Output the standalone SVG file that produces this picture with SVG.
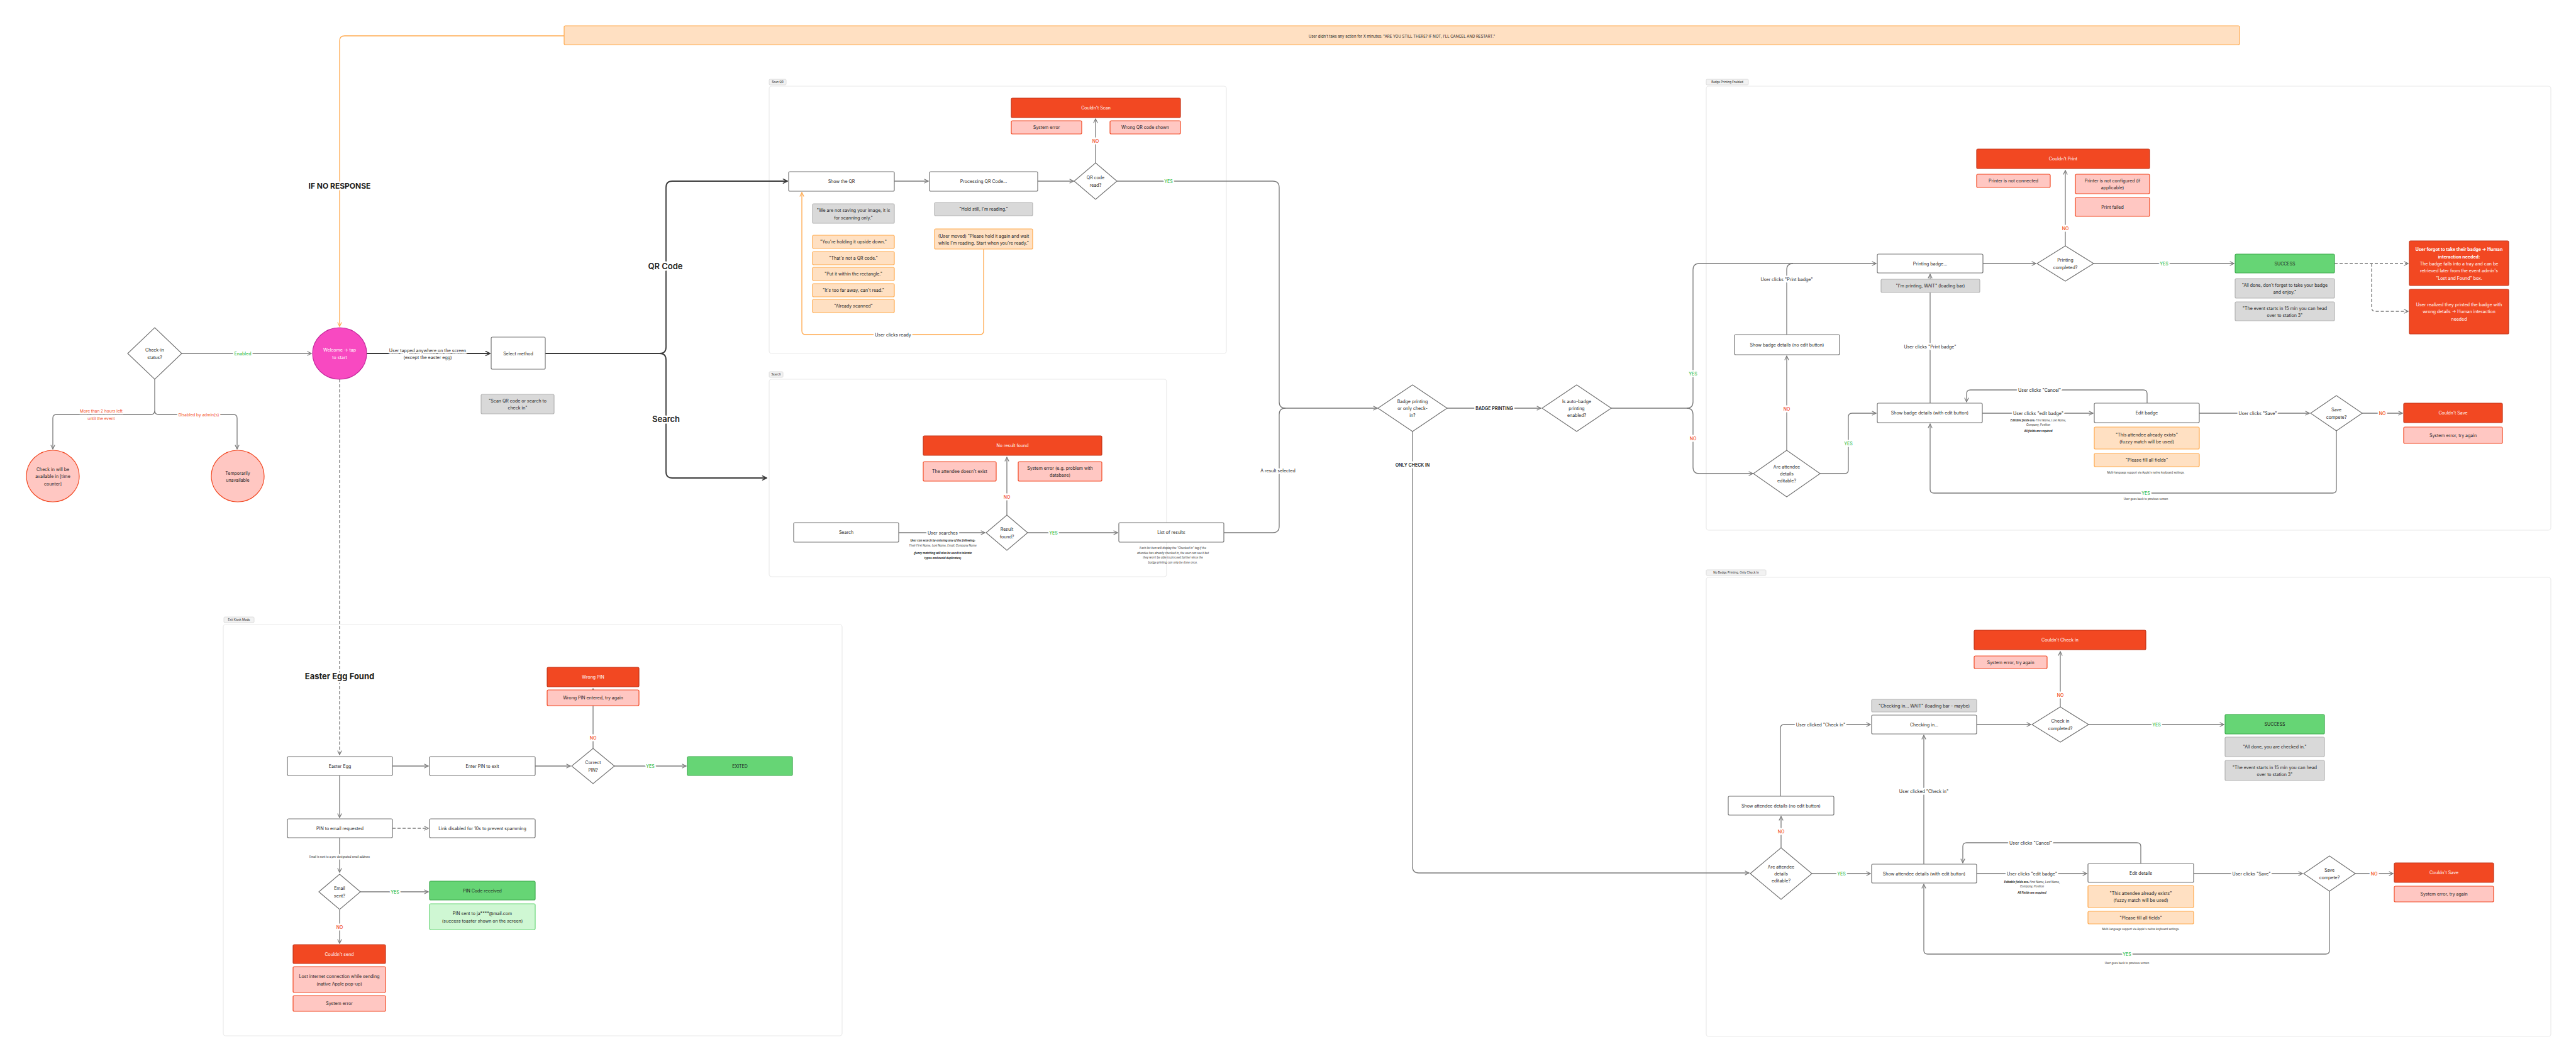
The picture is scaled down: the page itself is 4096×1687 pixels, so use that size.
<svg xmlns="http://www.w3.org/2000/svg" width="4096" height="1687" viewBox="0 0 4096 1687">
<style>
text{font-family:Inter,"Noto Sans","Liberation Sans",sans-serif;text-anchor:middle;dominant-baseline:central;font-size:7px;fill:#1E1E1E}
.box{fill:#fff;stroke:#757575;stroke-width:1.2}
.red{fill:#F24822;stroke:#C4361A;stroke-width:1.2}
.pink{fill:#FFC7C2;stroke:#F24822;stroke-width:1.2}
.org{fill:#FFE0C2;stroke:#FFA94D;stroke-width:1.2}
.gray{fill:#D9D9D9;stroke:#B3B3B3;stroke-width:1.2}
.grn{fill:#66D575;stroke:#3DAA4D;stroke-width:1.2}
.lgrn{fill:#CFF7D3;stroke:#66D575;stroke-width:1.2}
.dia{fill:#fff;stroke:#757575;stroke-width:1.2}
.sec{fill:#fff;stroke:#EAEAEA;stroke-width:1.2}
.tag{fill:#F2F2F2;stroke:#D6D6D6;stroke-width:0.8}
.tg{font-size:4.6px}
.w{fill:#fff}
.c{fill:none;stroke:#7A7A7A;stroke-width:1.3}
.ck{fill:none;stroke:#3A3A3A;stroke-width:1.8}
.cd{fill:none;stroke:#7A7A7A;stroke-width:1.3;stroke-dasharray:5 3}
.co{fill:none;stroke:#FFA94D;stroke-width:1.3}
.lbl{paint-order:stroke;stroke:#fff;stroke-width:5px;stroke-linejoin:round}
.yes{fill:#3CC156;font-weight:500}
.no{fill:#F24822;font-weight:500}
.big{font-size:13px;font-weight:600}
.sm{font-size:4.3px;font-style:italic}
.smb{font-size:4.3px;font-style:italic;font-weight:700}
.rl{fill:#F24822;font-size:6.5px}
</style>
<defs>
<marker id="a" viewBox="0 0 10 10" refX="9" refY="5" markerWidth="8" markerHeight="8" markerUnits="userSpaceOnUse" orient="auto"><path d="M1,1 L9,5 L1,9" fill="none" stroke="#7A7A7A" stroke-width="1.5"/></marker>
<marker id="ak" viewBox="0 0 10 10" refX="9" refY="5" markerWidth="9" markerHeight="9" markerUnits="userSpaceOnUse" orient="auto"><path d="M1,1 L9,5 L1,9" fill="none" stroke="#3A3A3A" stroke-width="1.8"/></marker>
<marker id="ao" viewBox="0 0 10 10" refX="9" refY="5" markerWidth="8" markerHeight="8" markerUnits="userSpaceOnUse" orient="auto"><path d="M1,1 L9,5 L1,9" fill="none" stroke="#FFA94D" stroke-width="1.5"/></marker>
</defs>
<rect width="4096" height="1687" fill="#fff"/>

<!-- section frames -->
<g id="sections">
<rect class="sec" x="1223" y="137" width="727" height="425" rx="4"/>
<rect class="tag" x="1223" y="126" width="27" height="9" rx="1.5"/><text class="tg" x="1236.5" y="130.5">Scan QR</text>
<rect class="sec" x="1223" y="603" width="632" height="314" rx="4"/>
<rect class="tag" x="1223" y="591" width="22" height="9" rx="1.5"/><text class="tg" x="1234" y="595.5">Search</text>
<rect class="sec" x="2713" y="137" width="1343" height="706" rx="4"/>
<rect class="tag" x="2713" y="126" width="67" height="9" rx="1.5"/><text class="tg" x="2746.5" y="130.5">Badge Printing Enabled</text>
<rect class="sec" x="2713" y="918" width="1343" height="730" rx="4"/>
<rect class="tag" x="2713" y="906" width="95" height="9" rx="1.5"/><text class="tg" x="2760.5" y="910.5">No Badge Printing, Only Check In</text>
<rect class="sec" x="355" y="993" width="984" height="654" rx="4"/>
<rect class="tag" x="356" y="981" width="48" height="9" rx="1.5"/><text class="tg" x="380" y="985.5">Exit Kiosk Mode</text>
</g>

<!-- connectors -->
<g id="connectors">
<path class="c" d="M289,562 H495" marker-end="url(#a)"/>
<path class="c" d="M246,603 V653 Q246,659 240,659 H90 Q84,659 84,665 V714" marker-end="url(#a)"/>
<path class="c" d="M246,653 Q246,659 252,659 H371 Q377,659 377,665 V714" marker-end="url(#a)"/>
<path class="ck" d="M583,562 H779" marker-end="url(#ak)"/>
<path class="cd" d="M540,603 V1200" marker-end="url(#a)"/>
<path class="co" d="M897,57 H548 Q540,57 540,65 V519" marker-end="url(#ao)"/>
<path class="ck" d="M867,562 H1049 Q1059,562 1059,552 V298 Q1059,288 1069,288 H1252" marker-end="url(#ak)"/>
<path class="ck" d="M1049,562 Q1059,562 1059,572 V750 Q1059,760 1069,760 H1219" marker-end="url(#ak)"/>
<path class="c" d="M1422,288 H1476" marker-end="url(#a)"/>
<path class="c" d="M1650,288 H1707" marker-end="url(#a)"/>
<path class="c" d="M1742,259 V189" marker-end="url(#a)"/>
<path class="c" d="M1776,288 H2024 Q2034,288 2034,298 V639 Q2034,649 2044,649 H2190" marker-end="url(#a)"/>
<path class="co" d="M1564,396 V526 Q1564,532 1558,532 H1281 Q1275,532 1275,526 V306" marker-end="url(#ao)"/>
<path class="c" d="M1429,847 H1566" marker-end="url(#a)"/>
<path class="c" d="M1601,819 V727" marker-end="url(#a)"/>
<path class="c" d="M1634,847 H1777" marker-end="url(#a)"/>
<path class="c" d="M1946,847 H2024 Q2034,847 2034,837 V659 Q2034,649 2044,649"/>
<path class="c" d="M2301,649 H2450" marker-end="url(#a)"/>
<path class="c" d="M2561,649 H2682 Q2692,649 2692,639 V429 Q2692,419 2702,419 H2983" marker-end="url(#a)"/>
<path class="c" d="M2682,649 Q2692,649 2692,659 V743 Q2692,753 2702,753 H2787" marker-end="url(#a)"/>
<path class="c" d="M2246,686 V1378 Q2246,1388 2256,1388 H2781" marker-end="url(#a)"/>
<path class="c" d="M3153,419 H3237" marker-end="url(#a)"/>
<path class="c" d="M3284,391 V271" marker-end="url(#a)"/>
<path class="c" d="M3329,419 H3552" marker-end="url(#a)"/>
<path class="cd" d="M3712,419 H3829" marker-end="url(#a)"/>
<path class="cd" d="M3771,419 V489 Q3771,495 3777,495 H3829" marker-end="url(#a)"/>
<path class="c" d="M2841,532 V429 Q2841,419 2851,419"/>
<path class="c" d="M3069,641 V436" marker-end="url(#a)"/>
<path class="c" d="M2841,716 V566" marker-end="url(#a)"/>
<path class="c" d="M2894,753 H2933 Q2939,753 2939,747 V663 Q2939,657 2945,657 H2983" marker-end="url(#a)"/>
<path class="c" d="M3152,657 H3328" marker-end="url(#a)"/>
<path class="c" d="M3414,641 V626 Q3414,620 3408,620 H3133 Q3127,620 3127,626 V639" marker-end="url(#a)"/>
<path class="c" d="M3497,657 H3672" marker-end="url(#a)"/>
<path class="c" d="M3756,657 H3820" marker-end="url(#a)"/>
<path class="c" d="M3715,685 V778 Q3715,784 3709,784 H3075 Q3069,784 3069,778 V674" marker-end="url(#a)"/>
<path class="c" d="M3143,1152 H3229" marker-end="url(#a)"/>
<path class="c" d="M3276,1124 V1036" marker-end="url(#a)"/>
<path class="c" d="M3321,1152 H3536" marker-end="url(#a)"/>
<path class="c" d="M2832,1348 V1298" marker-end="url(#a)"/>
<path class="c" d="M2831,1266 V1158 Q2831,1152 2837,1152 H2974" marker-end="url(#a)"/>
<path class="c" d="M2881,1389 H2974" marker-end="url(#a)"/>
<path class="c" d="M3059,1374 V1169" marker-end="url(#a)"/>
<path class="c" d="M3143,1389 H3318" marker-end="url(#a)"/>
<path class="c" d="M3404,1373 V1346 Q3404,1340 3398,1340 H3127 Q3121,1340 3121,1346 V1372" marker-end="url(#a)"/>
<path class="c" d="M3488,1389 H3661" marker-end="url(#a)"/>
<path class="c" d="M3745,1389 H3805" marker-end="url(#a)"/>
<path class="c" d="M3704,1416 V1511 Q3704,1517 3698,1517 H3065 Q3059,1517 3059,1511 V1406" marker-end="url(#a)"/>
<path class="c" d="M624,1218 H681" marker-end="url(#a)"/>
<path class="c" d="M851,1218 H907" marker-end="url(#a)"/>
<path class="c" d="M977,1218 H1091" marker-end="url(#a)"/>
<path class="c" d="M943,1190 V1095" marker-end="url(#a)"/>
<path class="c" d="M540,1233 V1300" marker-end="url(#a)"/>
<path class="cd" d="M624,1317 H681" marker-end="url(#a)"/>
<path class="c" d="M540,1332 V1387" marker-end="url(#a)"/>
<path class="c" d="M573,1418 H681" marker-end="url(#a)"/>
<path class="c" d="M540,1447 V1500" marker-end="url(#a)"/>

<text class="lbl yes" x="386" y="562">Enabled</text>
<text class="lbl rl" x="161"><tspan x="161" y="654">More than 2 hours left</tspan><tspan x="161" y="666">until the event</tspan></text>
<text class="lbl rl" x="316" y="660">Disabled by admin(s)</text>
<text class="lbl" x="680"><tspan x="680" y="557">User tapped anywhere on the screen</tspan><tspan x="680" y="568">(except the easter egg)</tspan></text>
<text class="lbl big" x="540" y="295" style="font-size:12px;font-weight:700">IF NO RESPONSE</text>
<text class="lbl big" x="540" y="1075" style="font-weight:700">Easter Egg Found</text>
<text class="lbl big" x="1058" y="423">QR Code</text>
<text class="lbl big" x="1059" y="666">Search</text>
<text class="lbl no" x="1742" y="224">NO</text>
<text class="lbl yes" x="1858" y="288">YES</text>
<text class="lbl" x="1420" y="532">User clicks ready</text>
<text class="lbl" x="1499" y="847">User searches</text>
<text class="smb" x="1499" y="859">User can search by entering any of the following:</text>
<text class="sm" x="1499" y="867">Their First Name, Last Name, Email, Company Name</text>
<text class="smb" x="1499" y="879">(fuzzy matching will also be used to tolerate</text>
<text class="smb" x="1499" y="887">typos and avoid duplicates)</text>
<text class="lbl no" x="1601" y="790">NO</text>
<text class="lbl yes" x="1675" y="847">YES</text>
<text class="sm" x="1865" y="871">Each list item will display the "Checked In" tag if the</text>
<text class="sm" x="1865" y="879">attendee has already checked in, the user can see it but</text>
<text class="sm" x="1865" y="886">they won't be able to proceed further since the</text>
<text class="sm" x="1865" y="894">badge printing can only be done once.</text>
<text class="lbl" x="2032" y="748">A result selected</text>
<text class="lbl" x="2376" y="649" style="font-weight:600">BADGE PRINTING</text>
<text class="lbl" x="2246" y="739" style="font-weight:600">ONLY CHECK IN</text>
<text class="lbl yes" x="2692" y="594">YES</text>
<text class="lbl no" x="2692" y="697">NO</text>
<text class="lbl no" x="3284" y="363">NO</text>
<text class="lbl yes" x="3441" y="419">YES</text>
<text class="lbl" x="2841" y="444">User clicks "Print badge"</text>
<text class="lbl" x="3069" y="551">User clicks "Print badge"</text>
<text class="lbl no" x="2841" y="650">NO</text>
<text class="lbl yes" x="2939" y="705">YES</text>
<text class="lbl" x="3241" y="657">User clicks "edit badge"</text>
<text class="smb" x="3241" y="668">Editable fields are: <tspan style="font-weight:400">First Name, Last Name,</tspan></text>
<text class="sm" x="3241" y="675">Company, Position</text>
<text class="smb" x="3241" y="685">All fields are required</text>
<text class="lbl" x="3243" y="620">User clicks "Cancel"</text>
<text class="lbl" x="3590" y="657">User clicks "Save"</text>
<text class="lbl no" x="3788" y="657">NO</text>
<text class="lbl yes" x="3412" y="784">YES</text>
<text class="sm" x="3412" y="793" style="font-style:normal">User goes back to previous screen</text>
<text class="sm" x="3412" y="751" style="font-style:normal">Multi-language support via Apple's native keyboard settings.</text>
<text class="lbl no" x="3276" y="1105">NO</text>
<text class="lbl yes" x="3429" y="1152">YES</text>
<text class="lbl no" x="2832" y="1322">NO</text>
<text class="lbl" x="2895" y="1152">User clicked "Check in"</text>
<text class="lbl yes" x="2928" y="1389">YES</text>
<text class="lbl" x="3059" y="1258">User clicked "Check in"</text>
<text class="lbl" x="3231" y="1389">User clicks "edit badge"</text>
<text class="smb" x="3231" y="1402">Editable fields are: <tspan style="font-weight:400">First Name, Last Name,</tspan></text>
<text class="sm" x="3231" y="1409">Company, Position</text>
<text class="smb" x="3231" y="1419">All Fields are required</text>
<text class="lbl" x="3229" y="1340">User clicks "Cancel"</text>
<text class="lbl" x="3580" y="1389">User clicks "Save"</text>
<text class="lbl no" x="3775" y="1389">NO</text>
<text class="lbl yes" x="3382" y="1517">YES</text>
<text class="sm" x="3382" y="1531" style="font-style:normal">User goes back to previous screen</text>
<text class="sm" x="3404" y="1477" style="font-style:normal">Multi-language support via Apple's native keyboard settings.</text>
<text class="lbl yes" x="1034" y="1218">YES</text>
<text class="lbl no" x="943" y="1173">NO</text>
<text class="lbl sm" x="540" y="1362" style="font-style:normal">Email is sent to a pre-designated email address</text>
<text class="lbl yes" x="628" y="1418">YES</text>
<text class="lbl no" x="540" y="1474">NO</text>
</g>

<!-- banner -->
<g id="n_banner"><rect class="org" x="897" y="41" width="2664" height="30" rx="2"/><text x="2229" y="57" style="font-size:6px">User didn't take any action for X minutes: "ARE YOU STILL THERE? IF NOT, I'LL CANCEL AND RESTART."</text></g>

<!-- left -->
<g id="d_status"><polygon class="dia" points="246,521 289,562 246,603 203,562"/><text><tspan x="246" y="556">Check-in</tspan><tspan x="246" y="568">status?</tspan></text></g>
<g id="c_welcome"><ellipse cx="540" cy="562" rx="43" ry="41" fill="#F849C1" stroke="#C4259B" stroke-width="1.2"/><text class="w"><tspan x="540" y="556">Welcome → tap</tspan><tspan x="540" y="568">to start</tspan></text></g>
<g id="n_select"><rect class="box" x="781" y="536" width="86" height="51" rx="2"/><text x="824" y="562">Select method</text></g>
<g id="n_scanmsg"><rect class="gray" x="765" y="627" width="116" height="31" rx="2"/><text><tspan x="823" y="637">"Scan QR code or search to</tspan><tspan x="823" y="648">check in"</tspan></text></g>
<g id="c_timer"><ellipse cx="84" cy="757" rx="42" ry="41" fill="#FFC7C2" stroke="#F24822" stroke-width="1.2"/><text><tspan x="84" y="746">Check in will be</tspan><tspan x="84" y="757">available in [time</tspan><tspan x="84" y="769">counter]</tspan></text></g>
<g id="c_unavail"><ellipse cx="378" cy="757" rx="42" ry="41" fill="#FFC7C2" stroke="#F24822" stroke-width="1.2"/><text><tspan x="378" y="752">Temporarily</tspan><tspan x="378" y="763">unavailable</tspan></text></g>

<!-- QR -->
<g id="n_showqr"><rect class="box" x="1254" y="273" width="168" height="31" rx="2"/><text x="1338" y="288.5">Show the QR</text></g>
<g id="n_proc"><rect class="box" x="1478" y="273" width="172" height="31" rx="2"/><text x="1564" y="288.5">Processing QR Code...</text></g>
<g id="d_qr"><polygon class="dia" points="1742,259 1776,288 1742,317 1708,288"/><text><tspan x="1742" y="282">QR code</tspan><tspan x="1742" y="294">read?</tspan></text></g>
<g id="n_noscan"><rect class="red" x="1608" y="156" width="269" height="31" rx="2"/><text class="w" x="1742.5" y="171.5">Couldn't Scan</text></g>
<g id="n_qrsyserr"><rect class="pink" x="1608" y="192" width="112" height="21" rx="2"/><text x="1664" y="202.5">System error</text></g>
<g id="n_wrongqr"><rect class="pink" x="1765" y="192" width="112" height="21" rx="2"/><text x="1821" y="202.5">Wrong QR code shown</text></g>
<g id="n_notsaving"><rect class="gray" x="1292" y="324" width="130" height="31" rx="2"/><text><tspan x="1357" y="334">"We are not saving your image, it is</tspan><tspan x="1357" y="346">for scanning only."</tspan></text></g>
<g id="n_upside"><rect class="org" x="1292" y="374" width="130" height="21" rx="2"/><text x="1357" y="384.5">"You're holding it upside down."</text></g>
<g id="n_notqr"><rect class="org" x="1292" y="400" width="130" height="21" rx="2"/><text x="1357" y="410.5">"That's not a QR code."</text></g>
<g id="n_rect"><rect class="org" x="1292" y="425" width="130" height="21" rx="2"/><text x="1357" y="435.5">"Put it within the rectangle."</text></g>
<g id="n_far"><rect class="org" x="1292" y="451" width="130" height="21" rx="2"/><text x="1357" y="461.5">"It's too far away, can't read."</text></g>
<g id="n_already"><rect class="org" x="1292" y="476" width="130" height="21" rx="2"/><text x="1357" y="486.5">"Already scanned"</text></g>
<g id="n_holdstill"><rect class="gray" x="1486" y="322" width="156" height="21" rx="2"/><text x="1564" y="332.5">"Hold still, I'm reading."</text></g>
<g id="n_moved"><rect class="org" x="1486" y="364" width="156" height="32" rx="2"/><text><tspan x="1564" y="375">(User moved) "Please hold it again and wait</tspan><tspan x="1564" y="386">while I'm reading. Start when you're ready."</tspan></text></g>

<!-- Search -->
<g id="n_search"><rect class="box" x="1262" y="831" width="167" height="31" rx="2"/><text x="1345.5" y="846.5">Search</text></g>
<g id="d_result"><polygon class="dia" points="1601,819 1634,847 1601,875 1568,847"/><text><tspan x="1601" y="841">Result</tspan><tspan x="1601" y="853">found?</tspan></text></g>
<g id="n_noresult"><rect class="red" x="1468" y="693" width="284" height="31" rx="2"/><text class="w" x="1610" y="708.5">No result found</text></g>
<g id="n_noattendee"><rect class="pink" x="1468" y="734" width="116" height="31" rx="2"/><text x="1526" y="749.5">The attendee doesn't exist</text></g>
<g id="n_dberr"><rect class="pink" x="1619" y="734" width="133" height="31" rx="2"/><text><tspan x="1685.5" y="744">System error (e.g. problem with</tspan><tspan x="1685.5" y="755">database)</tspan></text></g>
<g id="n_list"><rect class="box" x="1779" y="831" width="167" height="31" rx="2"/><text x="1862.5" y="846.5">List of results</text></g>

<!-- middle -->
<g id="d_mode"><polygon class="dia" points="2246,612 2301,649 2246,686 2191,649"/><text><tspan x="2246" y="638">Badge printing</tspan><tspan x="2246" y="649">or only check-</tspan><tspan x="2246" y="660">in?</tspan></text></g>
<g id="d_auto"><polygon class="dia" points="2507,612 2562,649 2507,686 2452,649"/><text><tspan x="2507" y="638">Is auto-badge</tspan><tspan x="2507" y="649">printing</tspan><tspan x="2507" y="660">enabled?</tspan></text></g>

<!-- Badge printing -->
<g id="n_printing"><rect class="box" x="2985" y="404" width="168" height="30" rx="2"/><text x="3069" y="419">Printing badge...</text></g>
<g id="n_printwait"><rect class="gray" x="2991" y="444" width="157" height="21" rx="2"/><text x="3069.5" y="454.5">"I'm printing, WAIT" (loading bar)</text></g>
<g id="d_printed"><polygon class="dia" points="3284,391 3329,419 3284,447 3239,419"/><text><tspan x="3284" y="413">Printing</tspan><tspan x="3284" y="425">completed?</tspan></text></g>
<g id="n_noprint"><rect class="red" x="3143" y="237" width="275" height="31" rx="2"/><text class="w" x="3280.5" y="252.5">Couldn't Print</text></g>
<g id="n_notconn"><rect class="pink" x="3143" y="277" width="117" height="21" rx="2"/><text x="3201.5" y="287.5">Printer is not connected</text></g>
<g id="n_notconf"><rect class="pink" x="3300" y="277" width="118" height="31" rx="2"/><text><tspan x="3359" y="287">Printer is not configured (if</tspan><tspan x="3359" y="298">applicable)</tspan></text></g>
<g id="n_printfail"><rect class="pink" x="3300" y="314" width="118" height="30" rx="2"/><text x="3359" y="329">Print failed</text></g>
<g id="n_success1"><rect class="grn" x="3554" y="404" width="158" height="30" rx="2"/><text x="3633" y="419">SUCCESS</text></g>
<g id="n_alldone1"><rect class="gray" x="3554" y="443" width="158" height="31" rx="2"/><text><tspan x="3633" y="453">"All done, don't forget to take your badge</tspan><tspan x="3633" y="464">and enjoy."</tspan></text></g>
<g id="n_event1"><rect class="gray" x="3554" y="480" width="158" height="30" rx="2"/><text><tspan x="3633" y="490">"The event starts in 15 min you can head</tspan><tspan x="3633" y="501">over to station 3"</tspan></text></g>
<g id="n_forgot"><rect class="red" x="3831" y="383" width="158" height="71" rx="2"/><text class="w"><tspan x="3910" y="396" style="font-weight:700">User forgot to take their badge → Human</tspan><tspan x="3910" y="408" style="font-weight:700">interaction needed:</tspan><tspan x="3910" y="419">The badge falls into a tray and can be</tspan><tspan x="3910" y="430">retrieved later from the event admin's</tspan><tspan x="3910" y="442">"Lost and Found" box.</tspan></text></g>
<g id="n_wrongdet"><rect class="red" x="3831" y="460" width="158" height="71" rx="2"/><text class="w"><tspan x="3910" y="484">User realized they printed the badge with</tspan><tspan x="3910" y="495">wrong details → Human interaction</tspan><tspan x="3910" y="507">needed</tspan></text></g>
<g id="n_shownoedit"><rect class="box" x="2758" y="532" width="167" height="32" rx="2"/><text x="2841.5" y="548">Show badge details (no edit button)</text></g>
<g id="d_editable"><polygon class="dia" points="2841,716 2894,753 2841,790 2788,753"/><text><tspan x="2841" y="742">Are attendee</tspan><tspan x="2841" y="753">details</tspan><tspan x="2841" y="764">editable?</tspan></text></g>
<g id="n_showedit"><rect class="box" x="2985" y="641" width="167" height="31" rx="2"/><text x="3068.5" y="656.5">Show badge details (with edit button)</text></g>
<g id="n_editbadge"><rect class="box" x="3330" y="641" width="167" height="31" rx="2"/><text x="3413.5" y="656.5">Edit badge</text></g>
<g id="n_exists1"><rect class="org" x="3330" y="679" width="167" height="35" rx="2"/><text><tspan x="3413.5" y="691">"This attendee already exists"</tspan><tspan x="3413.5" y="702">(fuzzy match will be used)</tspan></text></g>
<g id="n_fill1"><rect class="org" x="3330" y="721" width="167" height="21" rx="2"/><text x="3413.5" y="731.5">"Please fill all fields"</text></g>
<g id="d_save1"><polygon class="dia" points="3715,629 3756,657 3715,685 3674,657"/><text><tspan x="3715" y="651">Save</tspan><tspan x="3715" y="663">compete?</tspan></text></g>
<g id="n_nosave1"><rect class="red" x="3822" y="641" width="157" height="31" rx="2"/><text class="w" x="3900.5" y="656.5">Couldn't Save</text></g>
<g id="n_saveerr1"><rect class="pink" x="3822" y="679" width="157" height="26" rx="2"/><text x="3900.5" y="692">System error, try again</text></g>

<!-- Only check in -->
<g id="n_nocheckin"><rect class="red" x="3139" y="1002" width="273" height="31" rx="2"/><text class="w" x="3275.5" y="1017.5">Couldn't Check in</text></g>
<g id="n_checkerr"><rect class="pink" x="3139" y="1043" width="116" height="20" rx="2"/><text x="3197" y="1053">System error, try again</text></g>
<g id="n_checkwait"><rect class="gray" x="2976" y="1112" width="167" height="20" rx="2"/><text x="3059.5" y="1122">"Checking in... WAIT" (loading bar - maybe)</text></g>
<g id="n_checking"><rect class="box" x="2976" y="1137" width="167" height="30" rx="2"/><text x="3059.5" y="1152">Checking in...</text></g>
<g id="d_checkdone"><polygon class="dia" points="3276,1124 3321,1152 3276,1180 3231,1152"/><text><tspan x="3276" y="1146">Check in</tspan><tspan x="3276" y="1158">completed?</tspan></text></g>
<g id="n_success2"><rect class="grn" x="3538" y="1136" width="158" height="31" rx="2"/><text x="3617" y="1151.5">SUCCESS</text></g>
<g id="n_alldone2"><rect class="gray" x="3538" y="1172" width="158" height="31" rx="2"/><text x="3617" y="1187.5">"All done, you are checked in."</text></g>
<g id="n_event2"><rect class="gray" x="3538" y="1209" width="158" height="32" rx="2"/><text><tspan x="3617" y="1219.5">"The event starts in 15 min you can head</tspan><tspan x="3617" y="1230.5">over to station 3"</tspan></text></g>
<g id="n_attnoedit"><rect class="box" x="2748" y="1266" width="168" height="30" rx="2"/><text x="2832" y="1281">Show attendee details (no edit button)</text></g>
<g id="d_attedit"><polygon class="dia" points="2832,1348 2881,1389 2832,1430 2783,1389"/><text><tspan x="2832" y="1378">Are attendee</tspan><tspan x="2832" y="1389">details</tspan><tspan x="2832" y="1400">editable?</tspan></text></g>
<g id="n_attwithedit"><rect class="box" x="2976" y="1374" width="167" height="30" rx="2"/><text x="3059.5" y="1389">Show attendee details (with edit button)</text></g>
<g id="n_editdetails"><rect class="box" x="3320" y="1373" width="168" height="30" rx="2"/><text x="3404" y="1388">Edit details</text></g>
<g id="n_exists2"><rect class="org" x="3320" y="1408" width="168" height="35" rx="2"/><text><tspan x="3404" y="1420">"This attendee already exists"</tspan><tspan x="3404" y="1431">(fuzzy match will be used)</tspan></text></g>
<g id="n_fill2"><rect class="org" x="3320" y="1449" width="168" height="20" rx="2"/><text x="3404" y="1459">"Please fill all fields"</text></g>
<g id="d_save2"><polygon class="dia" points="3704,1361 3745,1389 3704,1417 3663,1389"/><text><tspan x="3704" y="1383">Save</tspan><tspan x="3704" y="1395">compete?</tspan></text></g>
<g id="n_nosave2"><rect class="red" x="3807" y="1372" width="158" height="31" rx="2"/><text class="w" x="3886" y="1387.5">Couldn't Save</text></g>
<g id="n_saveerr2"><rect class="pink" x="3807" y="1409" width="158" height="25" rx="2"/><text x="3886" y="1421.5">System error, try again</text></g>

<!-- Easter egg -->
<g id="n_egg"><rect class="box" x="457" y="1203" width="167" height="30" rx="2"/><text x="540.5" y="1218">Easter Egg</text></g>
<g id="n_pin"><rect class="box" x="683" y="1203" width="168" height="30" rx="2"/><text x="767" y="1218">Enter PIN to exit</text></g>
<g id="d_pin"><polygon class="dia" points="943,1190 977,1218 943,1246 909,1218"/><text><tspan x="943" y="1212">Correct</tspan><tspan x="943" y="1224">PIN?</tspan></text></g>
<g id="n_exited"><rect class="grn" x="1093" y="1203" width="167" height="30" rx="2"/><text x="1176.5" y="1218">EXITED</text></g>
<g id="n_wrongpin"><rect class="red" x="870" y="1061" width="146" height="31" rx="2"/><text class="w" x="943" y="1076.5">Wrong PIN</text></g>
<g id="n_wrongpinmsg"><rect class="pink" x="870" y="1097" width="146" height="25" rx="2"/><text x="943" y="1109.5">Wrong PIN entered, try again</text></g>
<g id="n_pinreq"><rect class="box" x="457" y="1302" width="167" height="30" rx="2"/><text x="540.5" y="1317">PIN to email requested</text></g>
<g id="n_link"><rect class="box" x="683" y="1302" width="168" height="30" rx="2"/><text x="767" y="1317">Link disabled for 10s to prevent spamming</text></g>
<g id="d_email"><polygon class="dia" points="540,1390 573,1418 540,1446 507,1418"/><text><tspan x="540" y="1412">Email</tspan><tspan x="540" y="1424">sent?</tspan></text></g>
<g id="n_pinrecv"><rect class="grn" x="683" y="1401" width="168" height="30" rx="2"/><text x="767" y="1416">PIN Code received</text></g>
<g id="n_pinsent"><rect class="lgrn" x="683" y="1437" width="168" height="41" rx="2"/><text><tspan x="767" y="1452">PIN sent to ja****@mail.com</tspan><tspan x="767" y="1464">(success toaster shown on the screen)</tspan></text></g>
<g id="n_nosend"><rect class="red" x="466" y="1502" width="147" height="30" rx="2"/><text class="w" x="539.5" y="1517">Couldn't send</text></g>
<g id="n_lostnet"><rect class="pink" x="466" y="1537" width="147" height="41" rx="2"/><text><tspan x="539.5" y="1552">Lost internet connection while sending</tspan><tspan x="539.5" y="1564">(native Apple pop-up)</tspan></text></g>
<g id="n_sendsys"><rect class="pink" x="466" y="1583" width="147" height="25" rx="2"/><text x="539.5" y="1595.5">System error</text></g>
</svg>
